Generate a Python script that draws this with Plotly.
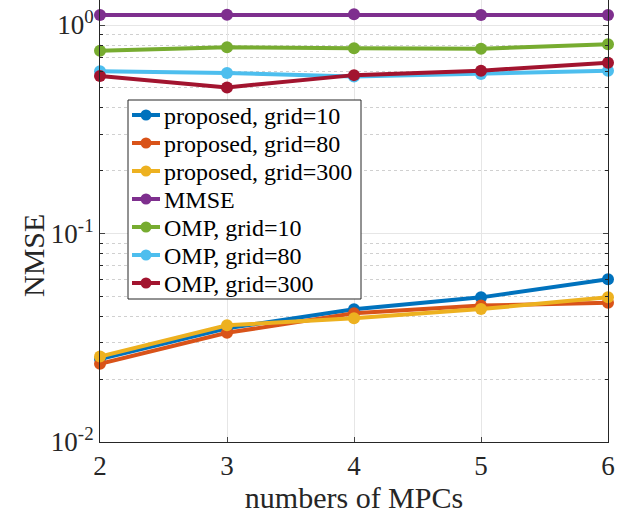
import plotly.graph_objects as go

x_mpcs = [2, 3, 4, 5, 6]
prop_10 = [0.0250, 0.0351, 0.0433, 0.0494, 0.0603]
prop_80 = [0.0237, 0.0334, 0.0414, 0.0451, 0.0466]
prop_300 = [0.0257, 0.0363, 0.0392, 0.0434, 0.0494]
mmse = [1.117, 1.12, 1.125, 1.117, 1.118]
omp_10 = [0.753, 0.782, 0.773, 0.770, 0.808]
omp_80 = [0.600, 0.589, 0.567, 0.582, 0.604]
omp_300 = [0.569, 0.502, 0.575, 0.604, 0.659]

names = ["proposed, grid=10", "proposed, grid=80", "proposed, grid=300", "MMSE",
         "OMP, grid=10", "OMP, grid=80", "OMP, grid=300"]
series = [prop_10, prop_80, prop_300, mmse, omp_10, omp_80, omp_300]
colors = ["#0072BD", "#D95319", "#EDB120", "#7E2F8E", "#77AC30", "#4DBEEE", "#A2142F"]

ytick_vals = [0.01, 0.1, 1]
ytick_text = ["10<sup>-2</sup>", "10<sup>-1</sup>", "10<sup>0</sup>"]
xtick_vals = [2, 3, 4, 5, 6]

W, H = 618, 516
ML, MR, MT, MB = 100, 10, 0, 74
PW, PH = W - ML - MR, H - MT - MB

def px(xp):
    return (xp - ML) / PW

def py(yp):
    return 1 - (yp - MT) / PH

fig = go.Figure()
for name, ys, c in zip(names, series, colors):
    fig.add_trace(go.Scatter(x=x_mpcs, y=ys, name=name, mode="lines+markers",
                             line=dict(color=c, width=4),
                             marker=dict(color=c, size=12),
                             cliponaxis=False, showlegend=False))

font_family = "Liberation Serif, Times New Roman, serif"
axis_color = "#262626"

# custom legend (box, keys, labels)
shapes = []
annotations = []
box_l, box_r, box_t, box_b = 128, 361, 100, 299
shapes.append(dict(type="rect", xref="paper", yref="paper",
                   x0=px(box_l), x1=px(box_r), y0=py(box_b), y1=py(box_t),
                   line=dict(color="#262626", width=1), fillcolor="white", layer="above"))
row0, row_h = 115, 28
for i, (name, c) in enumerate(zip(names, colors)):
    yc = row0 + i * row_h
    shapes.append(dict(type="line", xref="paper", yref="paper",
                       x0=px(132), x1=px(160), y0=py(yc), y1=py(yc),
                       line=dict(color=c, width=4), layer="above"))
    shapes.append(dict(type="circle", xref="paper", yref="paper",
                       xsizemode="pixel", ysizemode="pixel",
                       xanchor=px(146), yanchor=py(yc),
                       x0=-5.5, x1=5.5, y0=-5.5, y1=5.5,
                       line=dict(color=c, width=0), fillcolor=c, layer="above"))
    annotations.append(dict(xref="paper", yref="paper", x=px(162), y=py(yc + 1),
                            xanchor="left", yanchor="middle", showarrow=False,
                            text=name, font=dict(family=font_family, size=24, color="black")))

# y-axis title placed as in the reference
annotations.append(dict(xref="paper", yref="paper", x=px(33), y=py(256),
                        xanchor="center", yanchor="middle", showarrow=False, textangle=-90,
                        text="NMSE", font=dict(family=font_family, size=30, color=axis_color)))

fig.update_layout(
    width=W, height=H,
    margin=dict(l=ML, r=MR, t=MT, b=MB),
    paper_bgcolor="white", plot_bgcolor="white",
    font=dict(family=font_family, size=27, color=axis_color),
    showlegend=False,
    shapes=shapes, annotations=annotations,
)
fig.update_xaxes(
    range=[2, 6], tickvals=xtick_vals, ticks="inside", ticklen=5,
    tickfont=dict(size=27),
    showline=True, linecolor=axis_color, linewidth=1, mirror=False,
    showgrid=True, gridcolor="#e6e6e6", gridwidth=1,
    title=dict(text="numbers of MPCs", font=dict(size=30), standoff=1),
    zeroline=False,
)
fig.update_yaxes(
    type="log", range=[-2, 0.12], tickvals=ytick_vals, ticktext=ytick_text,
    ticks="inside", ticklen=5, tickfont=dict(size=27),
    showline=True, linecolor=axis_color, linewidth=1, mirror="ticks",
    showgrid=True, gridcolor="#e6e6e6", gridwidth=1,
    minor=dict(dtick="D1", ticks="inside", ticklen=3, tickcolor=axis_color,
               showgrid=True, gridcolor="#d0d0d0", griddash="dot", gridwidth=1),
    zeroline=False,
)

fig.write_html("out.html")
